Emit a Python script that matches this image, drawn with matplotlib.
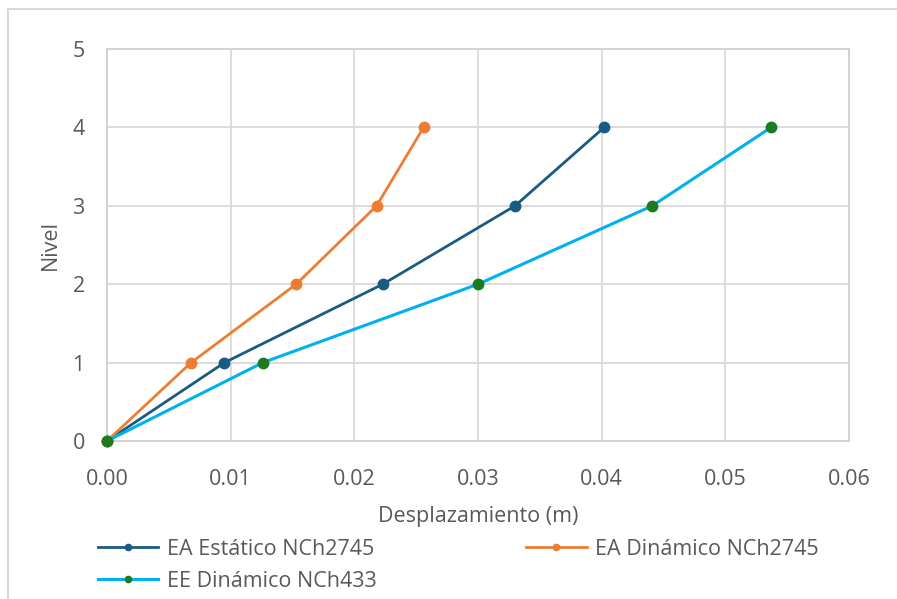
import matplotlib.pyplot as plt
from matplotlib.lines import Line2D

plt.rcParams['font.family'] = ['Open Sans', 'DejaVu Sans']

niveles = [0, 1, 2, 3, 4]
ea_estatico = [0.0, 0.0095, 0.0223, 0.0330, 0.0402]
ea_dinamico = [0.0, 0.0068, 0.0153, 0.0218, 0.0256]
ee_dinamico = [0.0, 0.0126, 0.0300, 0.0441, 0.0537]
xticks = [0.00, 0.01, 0.02, 0.03, 0.04, 0.05, 0.06]
yticks = [0, 1, 2, 3, 4, 5]

gris = "#595959"
fig = plt.figure(figsize=(8.97, 5.99), dpi=100)
ax = fig.add_axes([107/897, 1 - 441/599, (849-107)/897, (441-49)/599])

# marco exterior
fig.add_artist(Line2D([8/897, 1], [1 - 9/599, 1 - 9/599], color="#d9d9d9", lw=1.5))
fig.add_artist(Line2D([8/897, 8/897], [0, 1 - 9/599], color="#d9d9d9", lw=1.5))

l1, = ax.plot(ea_estatico, niveles, "-o", color="#1b5a82", lw=2, ms=7.5,
              label="EA Estático NCh2745", zorder=3, clip_on=False)
l2, = ax.plot(ea_dinamico, niveles, "-o", color="#ed7d31", lw=2, ms=7.5,
              label="EA Dinámico NCh2745", zorder=3, clip_on=False)
l3, = ax.plot(ee_dinamico, niveles, "-o", color="#00b0f0", lw=2.2, ms=7.5,
              mfc="#1e7a1e", mec="#1e7a1e", label="EE Dinámico NCh433",
              zorder=3, clip_on=False)

ax.set_xlim(0, 0.06)
ax.set_ylim(0, 5)
ax.set_xticks(xticks)
ax.set_xticklabels(["%.2f" % t for t in xticks])
ax.set_yticks(yticks)
ax.grid(True, color="#d9d9d9", lw=1.3)
ax.set_axisbelow(True)
for s in ax.spines.values():
    s.set_color("#d0d0d0")
    s.set_linewidth(1.3)
ax.tick_params(length=0, labelsize=15.5, labelcolor=gris)
ax.tick_params(axis="x", pad=20)
ax.tick_params(axis="y", pad=16)
ax.set_xlabel("Desplazamiento (m)", fontsize=15.5, color=gris, labelpad=12)
ax.set_ylabel("Nivel", fontsize=15.5, color=gris, labelpad=8)

leg = fig.legend([l1, l3, l2], [l1.get_label(), l3.get_label(), l2.get_label()],
                 ncol=2, loc="upper left", bbox_to_anchor=(98/897, 1 - 539/599),
                 frameon=False, fontsize=15.5, labelcolor=gris, handlelength=2.8,
                 handletextpad=0.4, columnspacing=6.95, labelspacing=0.5,
                 markerscale=0.6, borderpad=0, borderaxespad=0)

fig.savefig("out.png", dpi=100)
